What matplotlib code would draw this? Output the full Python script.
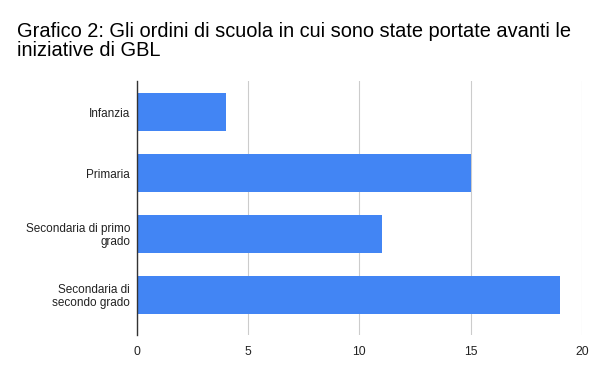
import matplotlib.pyplot as plt

plt.rcParams['font.family'] = ['Liberation Sans', 'DejaVu Sans']

# data
categories = ['Infanzia', 'Primaria', 'Secondaria di primo\ngrado', 'Secondaria di\nsecondo grado']
values = [4, 15, 11, 19]
xticks = [0, 5, 10, 15, 20]

fig = plt.figure(figsize=(6.01, 3.72), dpi=100)
ax = fig.add_axes([0.228, 0.0995, 0.74, 0.6825])

ypos = list(range(len(categories)))
ax.barh(ypos, values, height=0.62, color='#4285F4', zorder=3)

ax.set_ylim(3.66, -0.51)
ax.set_xlim(0, 20)
ax.set_xticks(xticks)
ax.set_yticks(ypos)
ax.set_yticklabels(categories, fontsize=8.5, color='#222222', linespacing=1.1)
ax.tick_params(axis='x', labelsize=8.8, colors='#222222', length=0, pad=8)
ax.tick_params(axis='y', length=0, pad=5)
ax.grid(axis='x', color='#cccccc', linewidth=0.8, zorder=0)

for s in ['top', 'right', 'bottom']:
    ax.spines[s].set_visible(False)
ax.spines['left'].set_color('#333333')
ax.spines['left'].set_linewidth(1.0)
ax.spines['left'].set_zorder(4)

fig.text(0.028, 0.94, 'Grafico 2: Gli ordini di scuola in cui sono state portate avanti le\niniziative di GBL',
         fontsize=14.4, color='#000000', va='top', ha='left', linespacing=1.0)

fig.savefig('out.png', dpi=100)
